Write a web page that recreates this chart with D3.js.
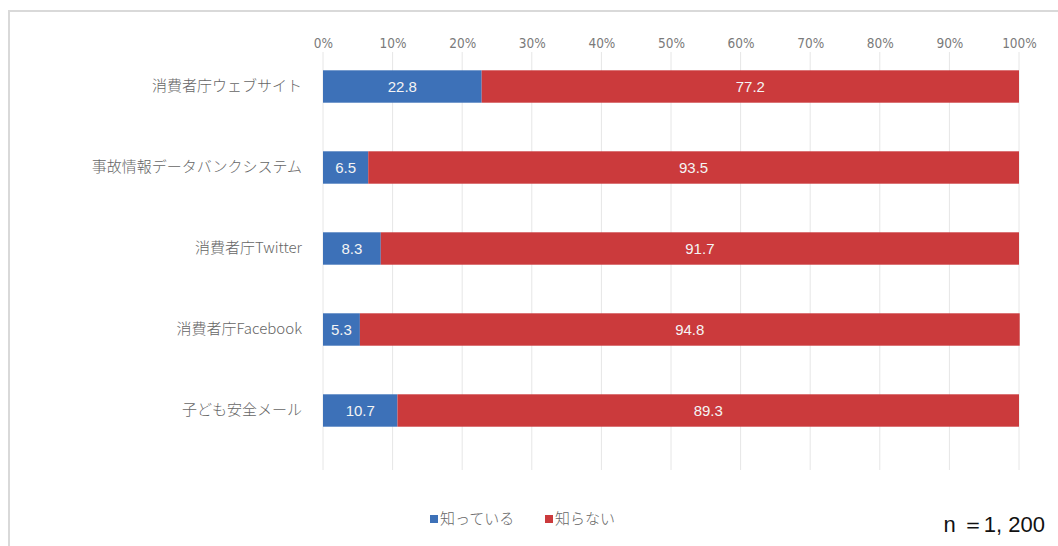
<!DOCTYPE html>
<html><head><meta charset="utf-8">
<script src="https://cdn.jsdelivr.net/npm/d3@7"></script>
<style>body{margin:0;background:#fff;} text{font-family:"Noto Sans CJK JP","Noto Sans",sans-serif;}</style>
</head><body>
<svg id="c" width="1058" height="546"></svg>
<script>
const categories = ["消費者庁ウェブサイト","事故情報データバンクシステム","消費者庁Twitter","消費者庁Facebook","子ども安全メール"];
const knows = [22.8, 6.5, 8.3, 5.3, 10.7];
const notKnows = [77.2, 93.5, 91.7, 94.8, 89.3];
const seriesNames = ["知っている","知らない"];
const tickValues = [0,10,20,30,40,50,60,70,80,90,100];
const colors = ["#3d71b8","#cb3a3c"];

const svg = d3.select("#c");
// frame
svg.append("path").attr("d","M9,1000 V11 H1100").attr("fill","none").attr("stroke","#d9d9d9").attr("stroke-width",2);

const x = d3.scaleLinear().domain([0,100]).range([323,1019]);
const y = d3.scaleBand().domain(categories).range([46,451]).paddingInner(0.6).paddingOuter(0.3);

// gridlines
svg.append("g").selectAll("line").data(tickValues).join("line")
  .attr("x1",d=>x(d)).attr("x2",d=>x(d)).attr("y1",52).attr("y2",470)
  .attr("stroke","#e6e6e6").attr("stroke-width",1);

// top axis
const ax = svg.append("g").attr("transform","translate(0,52)")
  .call(d3.axisTop(x).tickValues(tickValues).tickFormat(d=>d+"%").tickSize(0).tickPadding(4));
ax.select(".domain").remove();
ax.selectAll("text").attr("fill","#7a7a7a").style("font-size","13.5px").style("font-family","'Liberation Sans Narrow','DejaVu Sans Condensed',sans-serif");

// category labels
const ay = svg.append("g").attr("transform","translate(323,0)")
  .call(d3.axisLeft(y).tickSize(0).tickPadding(21));
ay.select(".domain").remove();
ay.selectAll("text").attr("fill","#666").style("font-size","15px").style("font-weight","300");

const stackData = categories.map((c,i)=>({cat:c, k:knows[i], n:notKnows[i]}));
const stack = d3.stack().keys(["k","n"])(stackData);

const g = svg.append("g");
stack.forEach((layer,li)=>{
  g.append("g").selectAll("rect").data(layer).join("rect")
    .attr("x",d=>x(d[0])).attr("width",d=>x(d[1])-x(d[0]))
    .attr("y",d=>y(d.data.cat)).attr("height",y.bandwidth())
    .attr("fill",colors[li]);
  g.append("g").selectAll("text").data(layer).join("text")
    .attr("x",d=>(x(d[0])+x(d[1]))/2).attr("y",d=>y(d.data.cat)+y.bandwidth()/2)
    .attr("dy","0.35em").attr("text-anchor","middle").attr("fill","#f4f4f4")
    .style("font-size","15px").style("font-family","'Liberation Sans',sans-serif")
    .text(d=>(d[1]-d[0]).toFixed(1));
});

// legend
const leg = svg.append("g");
const legX = [430, 545];
seriesNames.forEach((s,i)=>{
  leg.append("rect").attr("x",legX[i]).attr("y",515).attr("width",8).attr("height",8).attr("fill",colors[i]);
  leg.append("text").attr("x",legX[i]+10).attr("y",519).attr("dy","0.35em").attr("fill","#666").style("font-size","15px").style("font-weight","300").text(s);
});

// n label
svg.append("text").attr("x",1045).attr("y",532).attr("text-anchor","end").attr("fill","#111")
  .style("font-size","22px").style("font-family","'Liberation Sans Narrow','Liberation Sans',sans-serif").text("n ＝1, 200");
</script>
</body></html>
